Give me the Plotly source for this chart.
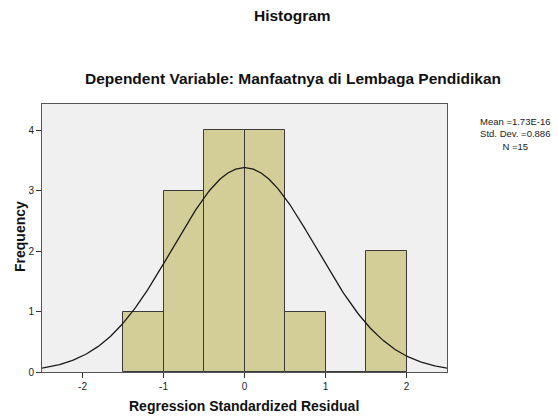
import numpy as np
import plotly.graph_objects as go

# Histogram data (bin left edges, counts)
bin_left = [-1.5, -1.0, -0.5, 0.0, 0.5, 1.0, 1.5]
counts = [1, 3, 4, 4, 1, 0, 2]
bin_width = 0.5
mean_val = 1.73e-16
std_dev = 0.886
n_obs = 15
x_ticks = [-2, -1, 0, 1, 2]
y_ticks = [0, 1, 2, 3, 4]

centers = [b + bin_width / 2 for b in bin_left]

# Normal curve from stated statistics
xs = np.linspace(-2.5, 2.5, 300)
ys = n_obs * bin_width / (std_dev * np.sqrt(2 * np.pi)) * np.exp(-0.5 * ((xs - mean_val) / std_dev) ** 2)

font_family = "Liberation Sans, Arial, sans-serif"

L, R, T, B = 42, 111, 104, 45
W, H = 558, 417
PW, PH = W - L - R, H - T - B


def px(x):
    return (x - L) / PW


def py(y):
    return (H - B - y) / PH


fig = go.Figure()
fig.add_trace(go.Bar(
    x=centers, y=counts, width=[bin_width] * len(centers),
    marker=dict(color="#D3CE97", line=dict(color="#3a3a3a", width=1)),
    hoverinfo="skip", showlegend=False,
))
fig.add_trace(go.Scatter(
    x=xs, y=ys, mode="lines", line=dict(color="#1a1a1a", width=1.3),
    hoverinfo="skip", showlegend=False,
))

fig.update_layout(
    width=W, height=H,
    margin=dict(l=L, r=R, t=T, b=B, autoexpand=False),
    paper_bgcolor="white", plot_bgcolor="#F0F0F0",
    font=dict(family=font_family, color="#222222", size=10),
    bargap=0,
    xaxis=dict(
        range=[-2.5, 2.5], tickvals=x_ticks, ticktext=[str(v) for v in x_ticks],
        ticks="outside", ticklen=5, tickcolor="#333", showgrid=False, zeroline=False,
        showline=True, linecolor="#555", linewidth=1, mirror=True, automargin=False,
        tickfont=dict(size=10, color="#222"),
    ),
    yaxis=dict(
        range=[0, 4.43], tickvals=y_ticks, ticktext=[str(v) for v in y_ticks],
        ticks="outside", ticklen=5, tickcolor="#333", showgrid=False, zeroline=False,
        showline=True, linecolor="#555", linewidth=1, mirror=True, automargin=False,
        tickfont=dict(size=10, color="#222"),
    ),
    annotations=[
        dict(text="<b>Histogram</b>", xref="paper", yref="paper", x=px(292), y=py(16),
             showarrow=False, font=dict(size=15.5, color="#111"), xanchor="center", yanchor="middle"),
        dict(text="<b>Dependent Variable: Manfaatnya di Lembaga Pendidikan</b>", xref="paper", yref="paper",
             x=px(293), y=py(79), showarrow=False, font=dict(size=15.5, color="#111"),
             xanchor="center", yanchor="middle"),
        dict(text="Mean =1.73E-16<br>Std. Dev. =0.886<br>N =15", xref="paper", yref="paper",
             x=px(515), y=py(134), showarrow=False, align="center",
             font=dict(size=9.5, color="#222"), xanchor="center", yanchor="middle"),
        dict(text="<b>Frequency</b>", xref="paper", yref="paper", x=px(20), y=py(237),
             showarrow=False, textangle=-90, font=dict(size=14, color="#111"),
             xanchor="center", yanchor="middle"),
        dict(text="<b>Regression Standardized Residual</b>", xref="paper", yref="paper",
             x=px(244), y=py(406), showarrow=False, font=dict(size=14, color="#111"),
             xanchor="center", yanchor="middle"),
    ],
)

fig.write_html(
    "out.html",
    config={"displayModeBar": False},
    post_script="document.body.style.margin='0';document.body.style.overflow='hidden';",
)
